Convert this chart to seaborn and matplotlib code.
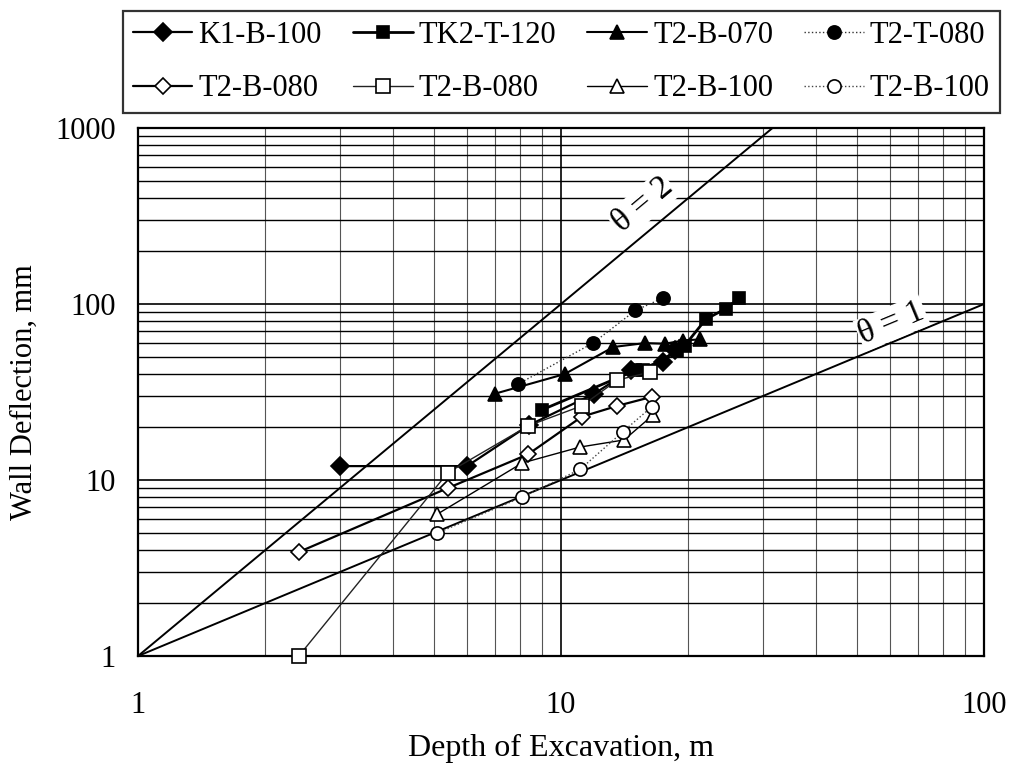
import numpy as np
import pandas as pd
import matplotlib
matplotlib.use("Agg")
import matplotlib.pyplot as plt
from matplotlib.ticker import LogLocator, FixedLocator, FixedFormatter, NullFormatter
import seaborn as sns

# ---- data ----
k1_x = [3.0, 6.0, 8.4, 12.0, 14.6, 17.4, 18.6]
k1_y = [12.0, 12.0, 20.5, 31.0, 42.0, 47.0, 55.0]

tk2_x = [9.0, 15.0, 15.6, 18.8, 19.6, 22.0, 24.5, 26.4]
tk2_y = [25.0, 42.0, 42.0, 54.0, 58.0, 82.0, 94.0, 108.0]

b070_x = [7.0, 10.2, 13.3, 15.8, 17.6, 19.4, 21.3]
b070_y = [31.0, 40.0, 57.0, 60.0, 59.5, 62.0, 63.0]

t080_x = [7.9, 11.9, 15.0, 17.4]
t080_y = [35.0, 60.0, 92.0, 108.0]

b080d_x = [2.4, 5.4, 8.36, 11.2, 13.6, 16.4]
b080d_y = [3.9, 9.0, 14.0, 22.9, 26.4, 29.7]

b080s_x = [2.4, 5.4, 8.36, 11.2, 13.6, 16.2]
b080s_y = [1.0, 11.0, 20.3, 26.4, 37.0, 41.0]

b100t_x = [5.1, 8.1, 11.1, 14.1, 16.5]
b100t_y = [6.4, 12.5, 15.4, 16.9, 23.4]

b100c_x = [5.1, 8.1, 11.1, 14.0, 16.4]
b100c_y = [5.0, 8.0, 11.5, 18.8, 26.1]

# reference lines (end points)
theta1_x = [1.0, 100.0]
theta1_y = [1.0, 100.0]
theta2_x = [1.0, 31.62]
theta2_y = [1.0, 1000.0]

labels = ["K1-B-100", "TK2-T-120", "T2-B-070", "T2-T-080",
          "T2-B-080", "T2-B-080", "T2-B-100", "T2-B-100"]
xs = [k1_x, tk2_x, b070_x, t080_x, b080d_x, b080s_x, b100t_x, b100c_x]
ys = [k1_y, tk2_y, b070_y, t080_y, b080d_y, b080s_y, b100t_y, b100c_y]

x_ticks = [1, 10, 100]
y_ticks = [1, 10, 100, 1000]

# ---- style ----
sns.set_style("white")
plt.rcParams['font.family'] = ['Liberation Serif', 'DejaVu Serif']
plt.rcParams.update({'text.color': 'black', 'axes.labelcolor': 'black',
                     'xtick.color': 'black', 'ytick.color': 'black'})

fig = plt.figure(figsize=(10.16, 7.69), dpi=100)
ax = fig.add_axes([0.1358, 0.1469, 0.8327, 0.6866])

styles = [
    dict(marker='D', mfc='black', ms=9, lw=1.6, color='black', ls='-'),
    dict(marker='s', mfc='black', ms=9, lw=2.0, color='black', ls='-'),
    dict(marker='^', mfc='black', ms=10, lw=1.5, color='black', ls='-'),
    dict(marker='o', mfc='black', ms=9.5, lw=1.0, color='#333333', ls=':'),
    dict(marker='D', mfc='white', ms=8, lw=1.6, color='black', ls='-'),
    dict(marker='s', mfc='white', ms=9.5, lw=1.0, color='#222222', ls='-'),
    dict(marker='^', mfc='white', ms=10, lw=1.0, color='black', ls='-'),
    dict(marker='o', mfc='white', ms=9.5, lw=1.0, color='#444444', ls=':'),
]

# reference lines
sns.lineplot(x=theta2_x, y=theta2_y, ax=ax, color='black', lw=1.4, zorder=3)
sns.lineplot(x=theta1_x, y=theta1_y, ax=ax, color='black', lw=1.4, zorder=3)

for xv, yv, lab, st in zip(xs, ys, labels, styles):
    df = pd.DataFrame({"x": xv, "y": yv})
    sns.lineplot(data=df, x="x", y="y", ax=ax, sort=False, estimator=None,
                 marker=st['marker'], markerfacecolor=st['mfc'],
                 markeredgecolor='black', markeredgewidth=1.2,
                 markersize=st['ms'], lw=st['lw'], color=st['color'],
                 linestyle=st['ls'], label=lab, zorder=5, clip_on=False)

ax.set_xscale('log')
ax.set_yscale('log')
ax.set_xlim(1, 100)
ax.set_ylim(1, 1000)

ax.xaxis.set_major_locator(FixedLocator(x_ticks))
ax.xaxis.set_major_formatter(FixedFormatter([str(v) for v in x_ticks]))
ax.yaxis.set_major_locator(FixedLocator(y_ticks))
ax.yaxis.set_major_formatter(FixedFormatter([str(v) for v in y_ticks]))
ax.xaxis.set_minor_locator(LogLocator(base=10, subs=np.arange(2, 10), numticks=20))
ax.yaxis.set_minor_locator(LogLocator(base=10, subs=np.arange(2, 10), numticks=20))
ax.xaxis.set_minor_formatter(NullFormatter())
ax.yaxis.set_minor_formatter(NullFormatter())

ax.set_axisbelow(True)
ax.grid(which='major', axis='both', color='black', lw=1.2)
ax.grid(which='minor', axis='y', color='black', lw=1.0)
ax.grid(which='minor', axis='x', color='#555555', lw=0.8)

ax.tick_params(axis='x', which='both', length=0, pad=25, labelsize=22)
ax.tick_params(axis='y', which='major', direction='in', length=8, width=1.5,
               pad=16, labelsize=22)
ax.tick_params(axis='y', which='minor', direction='in', length=8, width=1.5)

for sp in ax.spines.values():
    sp.set_color('black')
    sp.set_linewidth(1.6)

ax.set_xlabel("Depth of Excavation, m", fontsize=23, labelpad=10)
ax.set_ylabel("Wall Deflection, mm", fontsize=22, labelpad=12)

# theta labels
ax.text(15.6, 365, "θ = 2", fontsize=24, rotation=39.8, ha='center', va='center',
        rotation_mode='anchor',
        bbox=dict(facecolor='white', edgecolor='none', pad=1), zorder=4)
ax.text(60.5, 78, "θ = 1", fontsize=24, rotation=22.6, ha='center', va='center',
        rotation_mode='anchor',
        bbox=dict(facecolor='white', edgecolor='none', pad=1), zorder=4)

if ax.legend_:
    ax.legend_.remove()
h, l = ax.get_legend_handles_labels()
order = [0, 4, 1, 5, 2, 6, 3, 7]   # row-major filling as in the reference
h = [h[i] for i in order]
l = [l[i] for i in order]
leg = fig.legend(h, l, loc='lower left', ncol=4, mode='expand',
                 bbox_to_anchor=(0.121, 0.853, 0.863, 0.14),
                 fontsize=22, frameon=True, fancybox=False, edgecolor='black',
                 handlelength=1.95, handletextpad=0.2, columnspacing=0.4,
                 borderaxespad=0.0, labelspacing=0.8, borderpad=0.32)
leg.get_frame().set_linewidth(1.6)

fig.savefig("out.png", dpi=100)
